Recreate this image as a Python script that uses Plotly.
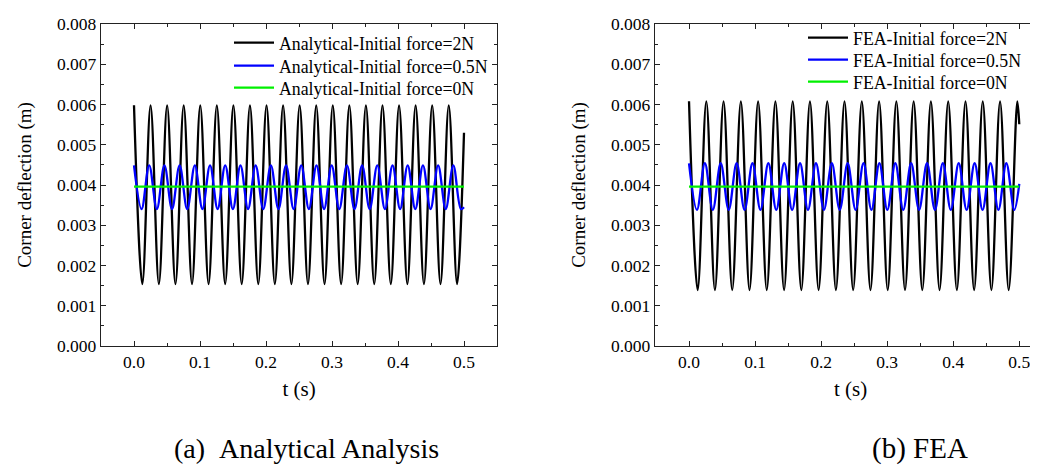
import plotly.graph_objects as go

# ---------------- data ----------------
# (a) Analytical: turning points (peaks/troughs) of each response, plus end value
t_ana_2N = [0, .0126, .0251, .0377, .0502, .0628, .0753, .0879, .1004, .113, .1255, .1381,
            .1506, .1632, .1757, .1883, .2008, .2134, .2259, .2385, .251, .2636, .2761, .2887,
            .3012, .3138, .3263, .3389, .3514, .364, .3765, .3891, .4016, .4142, .4267, .4393,
            .4518, .4644, .4769, .4895, .5]
y_ana_2N = [.00598, .00154, .00598, .00154, .00598, .00154, .00598, .00154, .00598, .00154,
            .00598, .00154, .00598, .00154, .00598, .00154, .00598, .00154, .00598, .00154,
            .00598, .00154, .00598, .00154, .00598, .00154, .00598, .00154, .00598, .00154,
            .00598, .00154, .00598, .00154, .00598, .00154, .00598, .00154, .00598, .00154,
            .0053]

t_ana_05N = [0, .0115, .023, .0346, .0461, .0576, .0691, .0806, .0922, .1037, .1152, .1267,
             .1382, .1498, .1613, .1728, .1843, .1958, .2074, .2189, .2304, .2419, .2534, .265,
             .2765, .288, .2995, .311, .3226, .3341, .3456, .3571, .3686, .3802, .3917, .4032,
             .4147, .4262, .4378, .4493, .4608, .4723, .4838, .4954, .5]
y_ana_05N = [.00449, .0034, .00449, .0034, .00449, .0034, .00449, .0034, .00449, .0034,
             .00449, .0034, .00449, .0034, .00449, .0034, .00449, .0034, .00449, .0034,
             .00449, .0034, .00449, .0034, .00449, .0034, .00449, .0034, .00449, .0034,
             .00449, .0034, .00449, .0034, .00449, .0034, .00449, .0034, .00449, .0034,
             .00449, .0034, .00449, .0034, .00345]

t_ana_0N = [0, 0.5]
y_ana_0N = [.00396, .00396]

# (b) FEA
t_fea_2N = [0, .0131, .0262, .0392, .0523, .0654, .0785, .0916, .1046, .1177, .1308, .1439,
            .157, .17, .1831, .1962, .2093, .2224, .2354, .2485, .2616, .2747, .2878, .3008,
            .3139, .327, .3401, .3532, .3662, .3793, .3924, .4055, .4186, .4316, .4447, .4578,
            .4709, .484, .497, .5]
y_fea_2N = [.00608, .00139, .00608, .00139, .00608, .00139, .00608, .00139, .00608, .00139,
            .00608, .00139, .00608, .00139, .00608, .00139, .00608, .00139, .00608, .00139,
            .00608, .00139, .00608, .00139, .00608, .00139, .00608, .00139, .00608, .00139,
            .00608, .00139, .00608, .00139, .00608, .00139, .00608, .00139, .00608, .00551]

t_fea_05N = [0, .012, .024, .036, .048, .0601, .0721, .0841, .0961, .1081, .1201, .1321,
             .1441, .1561, .1681, .1801, .1922, .2042, .2162, .2282, .2402, .2522, .2642,
             .2762, .2882, .3002, .3123, .3243, .3363, .3483, .3603, .3723, .3843, .3963,
             .4083, .4203, .4324, .4444, .4564, .4684, .4804, .4924, .5]
y_fea_05N = [.00454, .00338, .00454, .00338, .00454, .00338, .00454, .00338, .00454, .00338,
             .00454, .00338, .00454, .00338, .00454, .00338, .00454, .00338, .00454, .00338,
             .00454, .00338, .00454, .00338, .00454, .00338, .00454, .00338, .00454, .00338,
             .00454, .00338, .00454, .00338, .00454, .00338, .00454, .00338, .00454, .00338,
             .00454, .00338, .00403]

t_fea_0N = [0, 0.5]
y_fea_0N = [.00396, .00396]

names_ana = ["Analytical-Initial force=2N", "Analytical-Initial force=0.5N", "Analytical-Initial force=0N"]
names_fea = ["FEA-Initial force=2N", "FEA-Initial force=0.5N", "FEA-Initial force=0N"]
colors = ["#000000", "#0000ff", "#00f000"]

x_title = "t (s)"
y_title = "Corner deflection (m)"
captions = ["(a)\u00a0\u00a0Analytical Analysis", "(b) FEA"]

# ---------------- figure ----------------
FONT = "Liberation Serif"
W, H = 1038, 468
fig = go.Figure()

series_a = [(t_ana_2N, y_ana_2N), (t_ana_05N, y_ana_05N), (t_ana_0N, y_ana_0N)]
series_b = [(t_fea_2N, y_fea_2N), (t_fea_05N, y_fea_05N), (t_fea_0N, y_fea_0N)]

# one legend box per entry so that the tight row spacing of the original can be kept
leg_a = ["legend", "legend2", "legend3"]
leg_b = ["legend4", "legend5", "legend6"]
rows_a = [35, 58, 80]
rows_b = [30, 52, 74]

for (tx, ty), nm, c, lg in zip(series_a, names_ana, colors, leg_a):
    fig.add_trace(go.Scatter(x=tx, y=ty, name=nm, mode="lines",
                             line=dict(color=c, width=2.3, shape="spline", smoothing=1),
                             xaxis="x", yaxis="y", legend=lg))
for (tx, ty), nm, c, lg in zip(series_b, names_fea, colors, leg_b):
    fig.add_trace(go.Scatter(x=tx, y=ty, name=nm, mode="lines",
                             line=dict(color=c, width=2.3, shape="spline", smoothing=1),
                             xaxis="x2", yaxis="y2", legend=lg))

ydom = [(H - 338) / H, (H - 16) / H]
axis_common = dict(showgrid=False, zeroline=False, showline=True, linecolor="#222",
                   linewidth=1.3, ticks="inside", ticklen=5, tickwidth=1.2, tickcolor="#222",
                   automargin=False,
                   tickfont=dict(family=FONT, size=17.5, color="#000"))

layout = dict(
    width=W, height=H, margin=dict(l=0, r=0, t=0, b=0, autoexpand=False),
    paper_bgcolor="white", plot_bgcolor="white",
    font=dict(family=FONT, color="#000"),
    showlegend=True,
    xaxis=dict(axis_common, domain=[93 / W, 489 / W], range=[-0.05, 0.55], anchor="y",
               tick0=0, dtick=0.1, tickformat=".1f", mirror="ticks",
               minor=dict(dtick=0.05, ticks="inside", ticklen=3, tickcolor="#222"),
               title=dict(text=x_title, font=dict(family=FONT, size=21), standoff=10)),
    yaxis=dict(axis_common, domain=ydom, range=[0, 0.008], anchor="x",
               tick0=0, dtick=0.001, tickformat=".3f", mirror="ticks",
               minor=dict(dtick=0.0005, ticks="inside", ticklen=3, tickcolor="#222"),
               title=dict(text=y_title, font=dict(family=FONT, size=19), standoff=20)),
    xaxis2=dict(axis_common, domain=[647 / W, 1.0], range=[-0.0515, (W - 681.3) / 660],
                anchor="y2", tick0=0, dtick=0.1, tickformat=".1f", mirror="ticks",
                minor=dict(dtick=0.05, ticks="inside", ticklen=3, tickcolor="#222"),
                title=dict(text=x_title, font=dict(family=FONT, size=21), standoff=10)),
    yaxis2=dict(axis_common, domain=ydom, range=[0, 0.008], anchor="x2",
                tick0=0, dtick=0.001, tickformat=".3f", mirror=False,
                minor=dict(dtick=0.0005, ticks="inside", ticklen=3, tickcolor="#222"),
                title=dict(text=y_title, font=dict(family=FONT, size=19), standoff=20)),
)
for lg, r in zip(leg_a, rows_a):
    layout[lg] = dict(x=221 / W, y=1 - r / H, xanchor="left", yanchor="middle",
                      bgcolor="rgba(0,0,0,0)", font=dict(family=FONT, size=17.8),
                      itemwidth=40, tracegroupgap=0)
for lg, r in zip(leg_b, rows_b):
    layout[lg] = dict(x=795 / W, y=1 - r / H, xanchor="left", yanchor="middle",
                      bgcolor="rgba(0,0,0,0)", font=dict(family=FONT, size=17.8),
                      itemwidth=40, tracegroupgap=0)
fig.update_layout(**layout)

fig.add_annotation(text=captions[0], x=298 / W, y=(H - 440) / H, xref="paper", yref="paper",
                   xanchor="center", yanchor="middle",
                   showarrow=False, font=dict(family=FONT, size=28, color="#000"))
fig.add_annotation(text=captions[1], x=912 / W, y=(H - 440) / H, xref="paper", yref="paper",
                   xanchor="center", yanchor="middle",
                   showarrow=False, font=dict(family=FONT, size=29, color="#000"))

fig.write_html("out.html")
